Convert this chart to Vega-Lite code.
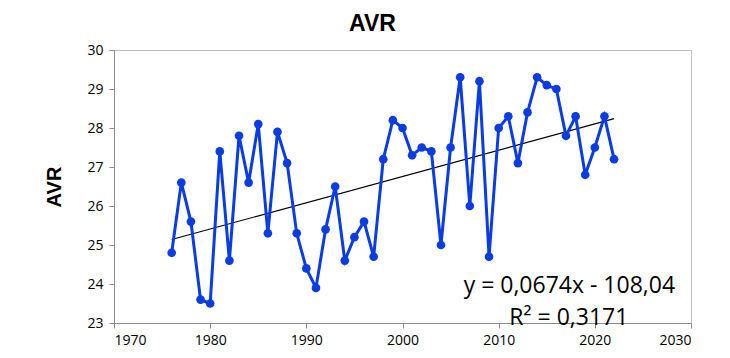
{
  "$schema": "https://vega.github.io/schema/vega-lite/v6.json",
  "autosize": {"type": "none"},
  "padding": {"left": 114, "top": 50, "right": 39, "bottom": 35},
  "width": 577,
  "height": 273,
  "background": "white",
  "title": {"text": "AVR", "font": "Liberation Sans", "fontSize": 23, "fontWeight": "bold", "color": "#000000", "offset": 7, "dx": -30},
  "config": {
    "view": {"stroke": "#bfbfbf", "strokeWidth": 1},
    "axis": {"labelFont": "Open Sans", "labelFontSize": 14, "labelColor": "#000000", "domainColor": "#8c8c8c", "tickColor": "#8c8c8c", "grid": false, "labelOverlap": false}
  },
  "datasets": {
    "avr": [
      {"year": 1976, "avr": 24.8}, {"year": 1977, "avr": 26.6}, {"year": 1978, "avr": 25.6},
      {"year": 1979, "avr": 23.6}, {"year": 1980, "avr": 23.5}, {"year": 1981, "avr": 27.4},
      {"year": 1982, "avr": 24.6}, {"year": 1983, "avr": 27.8}, {"year": 1984, "avr": 26.6},
      {"year": 1985, "avr": 28.1}, {"year": 1986, "avr": 25.3}, {"year": 1987, "avr": 27.9},
      {"year": 1988, "avr": 27.1}, {"year": 1989, "avr": 25.3}, {"year": 1990, "avr": 24.4},
      {"year": 1991, "avr": 23.9}, {"year": 1992, "avr": 25.4}, {"year": 1993, "avr": 26.5},
      {"year": 1994, "avr": 24.6}, {"year": 1995, "avr": 25.2}, {"year": 1996, "avr": 25.6},
      {"year": 1997, "avr": 24.7}, {"year": 1998, "avr": 27.2}, {"year": 1999, "avr": 28.2},
      {"year": 2000, "avr": 28.0}, {"year": 2001, "avr": 27.3}, {"year": 2002, "avr": 27.5},
      {"year": 2003, "avr": 27.4}, {"year": 2004, "avr": 25.0}, {"year": 2005, "avr": 27.5},
      {"year": 2006, "avr": 29.3}, {"year": 2007, "avr": 26.0}, {"year": 2008, "avr": 29.2},
      {"year": 2009, "avr": 24.7}, {"year": 2010, "avr": 28.0}, {"year": 2011, "avr": 28.3},
      {"year": 2012, "avr": 27.1}, {"year": 2013, "avr": 28.4}, {"year": 2014, "avr": 29.3},
      {"year": 2015, "avr": 29.1}, {"year": 2016, "avr": 29.0}, {"year": 2017, "avr": 27.8},
      {"year": 2018, "avr": 28.3}, {"year": 2019, "avr": 26.8}, {"year": 2020, "avr": 27.5},
      {"year": 2021, "avr": 28.3}, {"year": 2022, "avr": 27.2}
    ],
    "trend": [
      {"year": 1976, "avr": 25.14},
      {"year": 2022, "avr": 28.24}
    ],
    "labels": [
      {"label": "y = 0,0674x - 108,04", "year": 2017.35, "avr": 23.95},
      {"label": "R² = 0,3171", "year": 2017.3, "avr": 23.13}
    ]
  },
  "encoding": {
    "x": {"field": "year", "type": "quantitative", "scale": {"domain": [1970, 2030], "nice": false},
          "axis": {"title": null, "values": [1970, 1980, 1990, 2000, 2010, 2020, 2030], "format": "d", "tickSize": 5, "labelPadding": 5, "labelOverlap": false}},
    "y": {"field": "avr", "type": "quantitative", "scale": {"domain": [23, 30], "nice": false, "zero": false},
          "axis": {"title": "AVR", "titleFont": "Liberation Sans", "titleFontSize": 20, "titleFontWeight": "bold", "titleColor": "#000000", "titlePadding": 22, "values": [23, 24, 25, 26, 27, 28, 29, 30], "tickSize": 5, "labelPadding": 6, "labelOverlap": false, "format": "d"}}
  },
  "layer": [
    {
      "data": {"name": "trend"},
      "mark": {"type": "line", "color": "#000000", "strokeWidth": 1.2}
    },
    {
      "data": {"name": "avr"},
      "mark": {"type": "line", "color": "#0a3ce6", "strokeWidth": 3, "point": {"filled": true, "size": 75, "color": "#0a3ce6", "opacity": 1}}
    },
    {
      "data": {"name": "labels"},
      "mark": {"type": "text", "font": "Open Sans", "fontSize": 23, "color": "#000000", "align": "center", "baseline": "middle"},
      "encoding": {
        "text": {"field": "label"}
      }
    }
  ]
}
